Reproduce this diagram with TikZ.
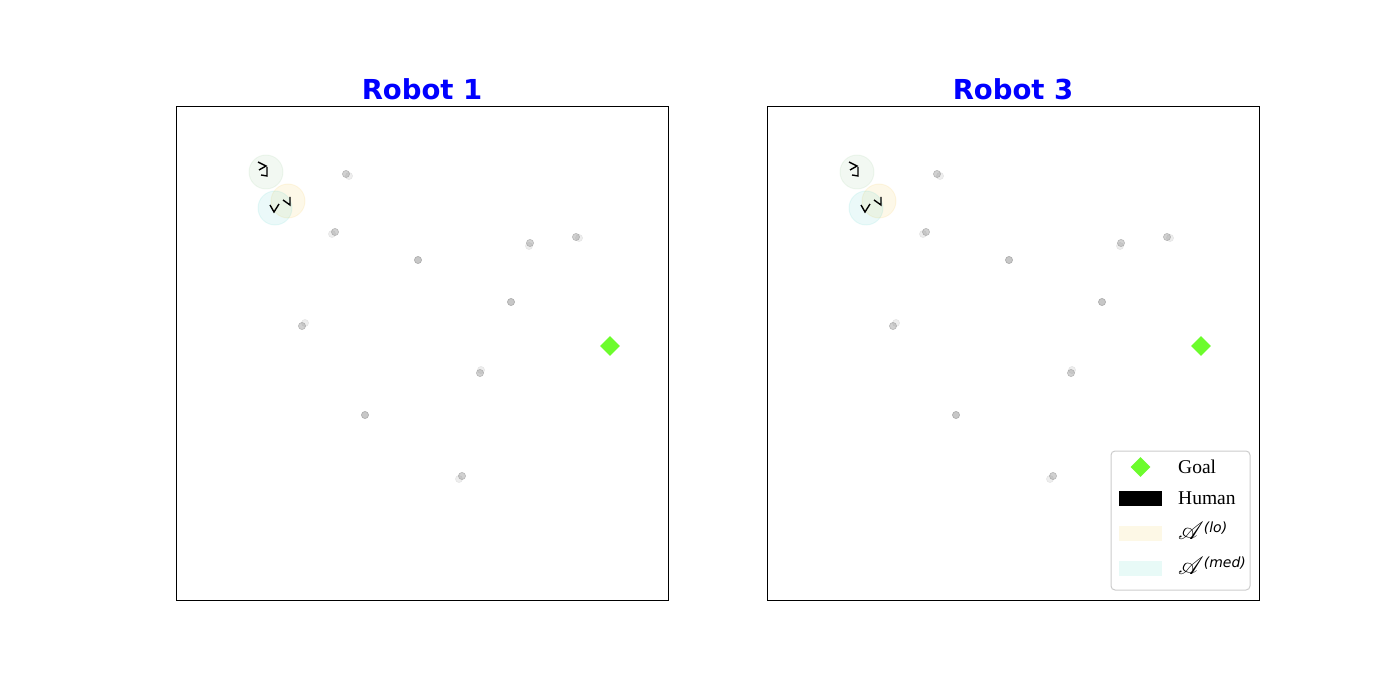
\documentclass[tikz,border=0pt]{standalone}
\usepackage{fontspec}
\usepackage{mathrsfs}
\usetikzlibrary{shapes.geometric}
\setmainfont{Liberation Serif}
\newfontfamily\titlefont{DejaVu Sans}
\newfontfamily\supfont{DejaVu Sans}
\definecolor{rblue}{HTML}{0000FF}
\definecolor{goalgreen}{HTML}{6CFC2C}
\definecolor{hgreen}{HTML}{55A555}
\definecolor{hgold}{HTML}{F2C344}
\definecolor{hteal}{HTML}{58D0CA}
\definecolor{lofill}{HTML}{FDF8E6}
\definecolor{medfill}{HTML}{E8FAF7}
\definecolor{dotgrey}{HTML}{8C8C8C}
\definecolor{legedge}{HTML}{CCCCCC}
\newcommand{\zonelabel}[1]{{\fontsize{23}{24}\selectfont$\mathscr{A}$}\raisebox{7pt}{\supfont\itshape\fontsize{14}{15}\selectfont(#1)}}
\tikzset{
 paneltitle/.style={font=\titlefont\bfseries\fontsize{27.5}{32}\selectfont, text=rblue},
 goalmark/.style={diamond, fill=goalgreen, inner sep=0pt, minimum size=20pt},
 zone/.style={fill opacity=0.12, draw opacity=0.12, line width=1pt},
 human/.style={line width=1.4pt, line cap=butt, line join=miter},
 agent/.style={fill=dotgrey, fill opacity=0.4, draw=dotgrey, draw opacity=0.5, line width=0.6pt},
 ghost/.style={fill=dotgrey, fill opacity=0.15, draw=dotgrey, draw opacity=0.15, line width=0.6pt},
 keybox/.style={minimum width=43pt, minimum height=15pt, inner sep=0pt},
 keytext/.style={anchor=west, font=\fontsize{19.5}{22}\selectfont, inner sep=0pt}
}

\begin{document}
\begin{tikzpicture}[x=1pt,y=-1pt]
 \useasboundingbox (0,0) rectangle (1400,700);
 \foreach \dx/\num in {0/1,591/3} {
 \begin{scope}[xshift=\dx pt]
  \draw[line width=1pt] (176,107) rectangle (668,600);
  \node[paneltitle] (title\num) at (422,89) {Robot \num};
  % humans and their zones
  \filldraw[zone, fill=hgreen, draw=hgreen, fill opacity=0.08, draw opacity=0.08] (266,172) circle (17);
  \filldraw[zone, fill=hgold, draw=hgold] (288,201) circle (17);
  \filldraw[zone, fill=hteal, draw=hteal] (275,208) circle (17);
  \draw[human] (258,162) -- (266,166) -- (259,170);
  \draw[human] (267,167) -- (267,176) -- (261,175);
  \draw[human] (283,200) -- (290,205) -- (290,197);
  \draw[human] (270,205) -- (274,212) -- (279,204);
  % other agents
  \foreach \x/\y/\gx/\gy in {346/174/349/176, 335/232/332/234, 418/260/418/260,
    530/243/529/246, 576/237/579/238, 511/302/511/302, 302/326/305/323,
    480/373/481/370, 365/415/365/415, 462/476/459/479} {
   \filldraw[ghost] (\gx,\gy) circle (3.6);
   \filldraw[agent] (\x,\y) circle (3.6);
  }
  \node[goalmark] (goal\num) at (610,346) {};
 \end{scope}
 }
 % legend
 \draw[legedge, line width=1pt, fill=white, rounded corners=4pt] (1111,451) rectangle (1250,590);
 \node[goalmark] (keygoal) at (1140.5,467) {};
 \node[keytext] (labgoal) at (1178,467) {Goal};
 \node[keybox, fill=black] (keyhuman) at (1140.5,498) {};
 \node[keytext] (labhuman) at (1178,498) {Human};
 \node[keybox, fill=lofill] (keylo) at (1140.5,533) {};
 \node[keytext] (lablo) at (1178,531) {\zonelabel{lo}};
 \node[keybox, fill=medfill] (keymed) at (1140.5,568) {};
 \node[keytext] (labmed) at (1178,566) {\zonelabel{med}};
\end{tikzpicture}
\end{document}
